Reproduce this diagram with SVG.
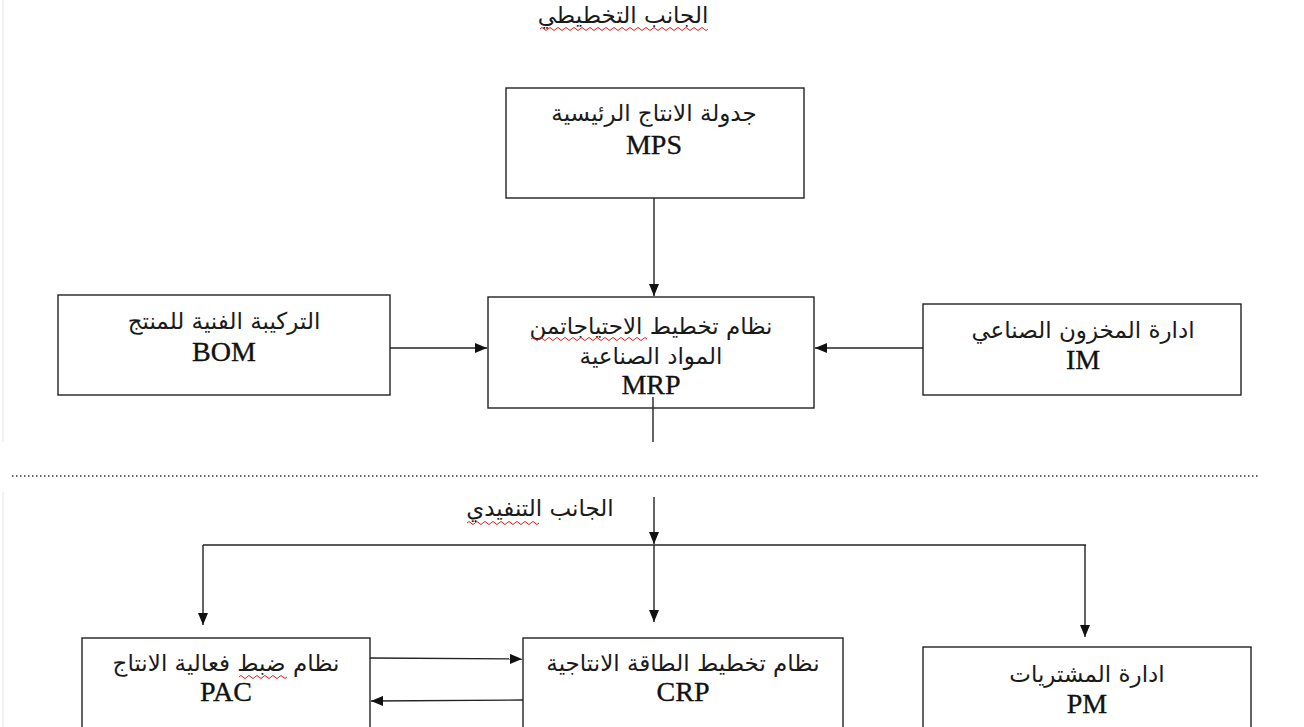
<svg xmlns="http://www.w3.org/2000/svg" width="1304" height="727" viewBox="0 0 1304 727">
  <style>
    .box { fill: #fff; stroke: #222; stroke-width: 1.4; }
    .ar { font-family: "DejaVu Sans", "Noto Sans", sans-serif; font-size: 23px; fill: #1a1a1a; text-anchor: middle; direction: rtl; }
    .en { font-family: "Liberation Serif", "Times New Roman", serif; font-size: 28px; fill: #111; stroke: #111; stroke-width: 0.35; text-anchor: middle; }
    .ln { fill: none; stroke: #222; stroke-width: 1.4; }
    .wave { fill: none; stroke: #e02020; stroke-width: 1; }
  </style>
  <defs>
    <marker id="arrow" viewBox="0 0 12 10" refX="12" refY="5" markerWidth="12" markerHeight="10" markerUnits="userSpaceOnUse" orient="auto">
      <path d="M0,0 L12,5 L0,10 Z" fill="#111"/>
    </marker>
  </defs>
  <rect width="1304" height="727" fill="#fff"/>

  <!-- page edge -->
  <line x1="3" y1="0" x2="3" y2="442" stroke="#e4e4e4" stroke-width="1"/>
  <line x1="3" y1="492" x2="3" y2="727" stroke="#e4e4e4" stroke-width="1"/>

  <!-- section titles -->
  <text class="ar" x="623" y="23">الجانب التخطيطي</text>
  <text class="ar" x="540" y="516">الجانب التنفيدي</text>

  <!-- section divider -->
  <line x1="12" y1="476" x2="1258" y2="476" stroke="#333" stroke-width="1.3" stroke-dasharray="1.5 2.5"/>

  <g id="node-mps">
    <rect class="box" x="506" y="88" width="298" height="110"/>
    <text class="ar" x="654" y="121">جدولة الانتاج الرئيسية</text>
    <text class="en" x="654" y="154">MPS</text>
  </g>

  <g id="node-bom">
    <rect class="box" x="58" y="295" width="332" height="100"/>
    <text class="ar" x="224" y="329">التركيبة الفنية للمنتج</text>
    <text class="en" x="224" y="361">BOM</text>
  </g>

  <g id="node-mrp">
    <rect class="box" x="488" y="297" width="326" height="111"/>
    <text class="ar" x="651" y="334">نظام تخطيط الاحتياجاتمن</text>
    <text class="ar" x="651" y="364">المواد الصناعية</text>
    <text class="en" x="651" y="394">MRP</text>
  </g>

  <g id="node-im">
    <rect class="box" x="923" y="304" width="318" height="91"/>
    <text class="ar" x="1083" y="338">ادارة المخزون الصناعي</text>
    <text class="en" x="1083" y="369">IM</text>
  </g>

  <g id="node-pac">
    <rect class="box" x="82" y="638" width="288" height="100"/>
    <text class="ar" x="226" y="671">نظام ضبط فعالية الانتاج</text>
    <text class="en" x="226" y="701">PAC</text>
  </g>

  <g id="node-crp">
    <rect class="box" x="523" y="638" width="320" height="100"/>
    <text class="ar" x="683" y="671">نظام تخطيط الطاقة الانتاجية</text>
    <text class="en" x="683" y="701">CRP</text>
  </g>

  <g id="node-pm">
    <rect class="box" x="923" y="647" width="328" height="90"/>
    <text class="ar" x="1087" y="682">ادارة المشتريات</text>
    <text class="en" x="1087" y="713">PM</text>
  </g>

  <!-- spelling marks -->
  <g id="spell-marks">
    <path class="wave" d="M540,29 q2,-3 4,0 t4,0 t4,0 t4,0 t4,0 t4,0 t4,0 t4,0 t4,0 t4,0 t4,0 t4,0 t4,0 t4,0 t4,0 t4,0 t4,0 t4,0 t4,0 t4,0 t4,0 t4,0 t4,0 t4,0 t4,0 t4,0 t4,0 t4,0 t4,0 t4,0 t4,0 t4,0 t4,0 t4,0 t4,0 t4,0 t4,0 t4,0 t4,0 t4,0 t4,0 t4,0"/>
    <path class="wave" d="M531,339 q2,-3 4,0 t4,0 t4,0 t4,0 t4,0 t4,0 t4,0 t4,0 t4,0 t4,0 t4,0 t4,0 t4,0 t4,0 t4,0 t4,0 t4,0 t4,0 t4,0 t4,0 t4,0 t4,0 t4,0 t4,0 t4,0 t4,0 t4,0 t4,0 t4,0"/>
    <path class="wave" d="M467,523 q2,-3 4,0 t4,0 t4,0 t4,0 t4,0 t4,0 t4,0 t4,0 t4,0 t4,0 t4,0 t4,0 t4,0 t4,0 t4,0 t4,0 t4,0 t4,0"/>
    <path class="wave" d="M239,677 q2,-3 4,0 t4,0 t4,0 t4,0 t4,0 t4,0 t4,0 t4,0 t4,0 t4,0 t4,0 t4,0"/>
  </g>

  <g id="connectors">
    <!-- planning inputs into MRP -->
    <line class="ln" x1="654" y1="198" x2="654" y2="296" marker-end="url(#arrow)"/>
    <line class="ln" x1="390" y1="348" x2="487" y2="348" marker-end="url(#arrow)"/>
    <line class="ln" x1="923" y1="348" x2="815" y2="348" marker-end="url(#arrow)"/>
    <line class="ln" x1="653" y1="397" x2="653" y2="442"/>
    <!-- execution side distribution -->
    <line class="ln" x1="654" y1="497" x2="654" y2="544" marker-end="url(#arrow)"/>
    <line class="ln" x1="203" y1="545" x2="1086" y2="545"/>
    <line class="ln" x1="203" y1="545" x2="203" y2="625" marker-end="url(#arrow)"/>
    <line class="ln" x1="654" y1="545" x2="654" y2="622" marker-end="url(#arrow)"/>
    <line class="ln" x1="1085" y1="545" x2="1085" y2="637" marker-end="url(#arrow)"/>
    <!-- PAC / CRP exchange -->
    <line class="ln" x1="370" y1="658" x2="522" y2="659" marker-end="url(#arrow)"/>
    <line class="ln" x1="523" y1="700" x2="371" y2="701" marker-end="url(#arrow)"/>
  </g>
</svg>
